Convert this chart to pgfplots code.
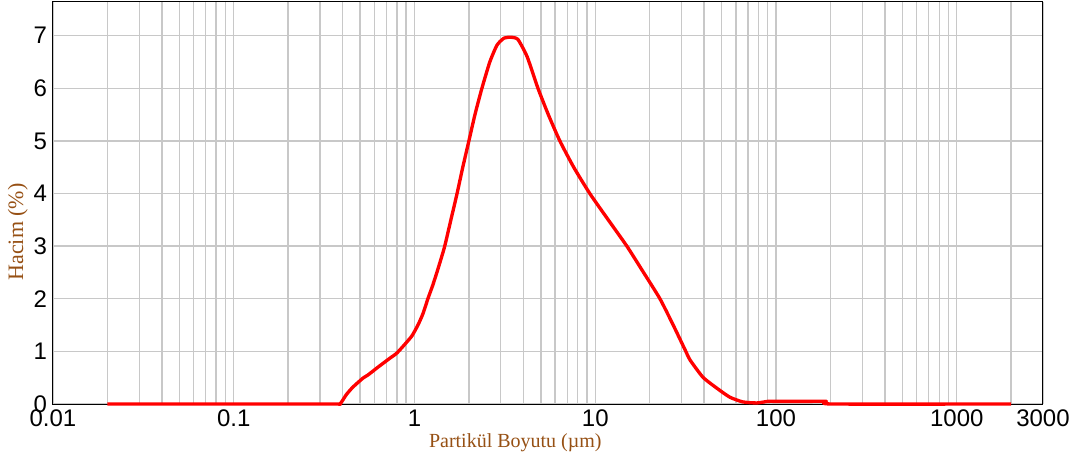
\documentclass[border=0pt]{standalone}
\usepackage{fontspec}
\setmainfont{Liberation Serif}
\newfontfamily\ticksans{Liberation Sans}
\usepackage{pgfplots}
\pgfplotsset{compat=1.18}
\definecolor{labbrown}{RGB}{150,80,20}
\definecolor{gridgray}{RGB}{200,200,200}

\pgfplotstableread{
x y
0.02 0
0.1 0
0.36 0
0.387 0.0
0.42 0.18
0.456 0.32
0.518 0.49
0.552 0.55
0.628 0.70
0.731 0.87
0.80 0.97
0.908 1.18
0.97 1.30
1.045 1.50
1.115 1.72
1.186 2.00
1.26 2.25
1.33 2.50
1.40 2.75
1.47 3.00
1.59 3.50
1.72 4.00
1.85 4.50
2.00 5.00
2.16 5.50
2.36 6.00
2.61 6.50
2.86 6.82
3.12 6.95
3.40 6.97
3.73 6.93
4.20 6.60
4.82 6.00
5.50 5.50
6.37 5.00
7.60 4.50
9.33 4.00
11.8 3.50
14.96 3.00
18.5 2.50
22.8 2.00
27.0 1.50
31.7 1.00
33.4 0.84
39.4 0.51
47.1 0.30
55.5 0.13
65.5 0.04
78.3 0.02
90 0.05
100 0.05
150 0.05
190 0.05
205 0.0
2000 0
}\psddata

\begin{document}
\begin{tikzpicture}
\begin{axis}[
  at={(0,0)}, anchor=south west,
  scale only axis, width=742.5pt, height=301.5pt,
  xmode=log, log basis x=10,
  xmin=0.01, xmax=3000, ymin=0, ymax=7.64,
  xtick={0.01,0.1,1,10,100,1000,3000},
  xticklabels={0.01,0.1,1,10,100,1000,3000},
  minor xtick={0.02,0.03,0.04,0.05,0.06,0.07,0.08,0.09,
               0.2,0.3,0.4,0.5,0.6,0.7,0.8,0.9,
               2,3,4,5,6,7,8,9,
               20,30,40,50,60,70,80,90,
               200,300,400,500,600,700,800,900,2000},
  ytick={0,1,2,3,4,5,6,7},
  yticklabels={0,1,2,3,4,5,6,7},
  major tick length=0pt, minor tick length=0pt,
  xmajorgrids, xminorgrids, ymajorgrids,
  major grid style={gridgray, line width=1.1pt},
  minor grid style={gridgray, line width=1.1pt},
  axis line style={black, line width=0.75pt},
  tick label style={font=\ticksans\fontsize{18}{20}\selectfont, text=black},
  /pgf/number format/assume math mode=true,
  xticklabel style={yshift=-1pt},
  yticklabel style={xshift=-1pt},
  xlabel={Partikül Boyutu (µm)},
  ylabel={Hacim (\%)},
  label style={text=labbrown},
  xlabel style={font=\fontsize{15}{17}\selectfont, at={(axis description cs:0.467,-0.097)}, anchor=center},
  ylabel style={font=\fontsize{16.5}{18}\selectfont, at={(axis description cs:-0.0354,0.428)}, anchor=center},
  clip=false,
]
\addplot[red, line width=2.5pt, line join=round, smooth, tension=0.35] table[x=x,y=y] {\psddata};
\end{axis}
\pgfresetboundingbox
\path[use as bounding box] (-39.75pt,-42.75pt) rectangle (767.25pt,303pt);
\end{tikzpicture}
\end{document}
